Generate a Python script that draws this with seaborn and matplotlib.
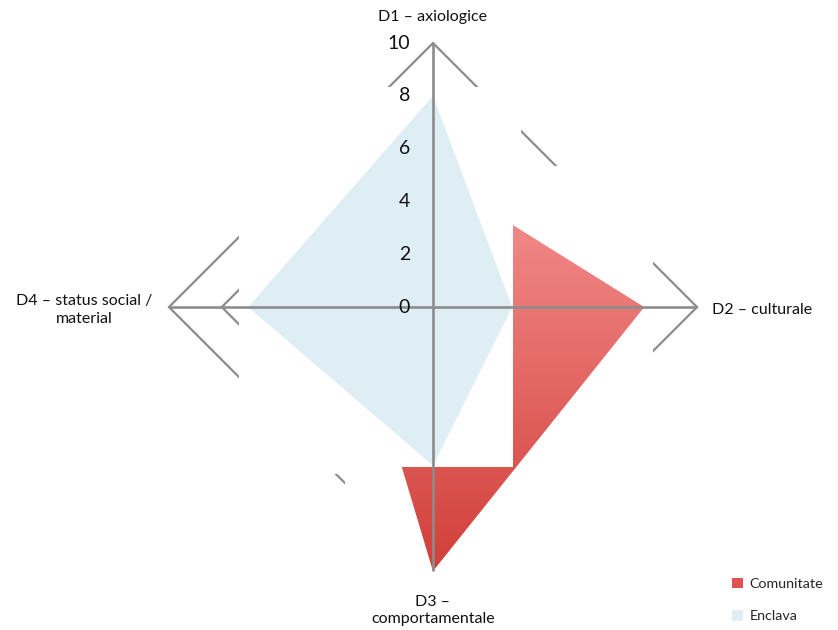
import numpy as np
import matplotlib
matplotlib.use("Agg")
import matplotlib.pyplot as plt
import seaborn as sns
from matplotlib.patches import Polygon, Rectangle, Patch
from matplotlib.colors import LinearSegmentedColormap

# Radar chart data: four dimensions, two series
dimensions = ["D1 – axiologice", "D2 – culturale",
              "D3 –\ncomportamentale", "D4 – status social /\nmaterial"]
series_names = ["Comunitate", "Enclava"]
comunitate = [5, 8, 10, 3]
enclava = [8, 3, 6, 7]
tick_values = [0, 2, 4, 6, 8, 10]
tick_labels = ["0", "2", "4", "6", "8", "10"]

sns.set_theme(style="white")
plt.rcParams["font.family"] = ["Lato", "DejaVu Sans"]

GRID = "#8c8c8c"
RED_TOP, RED_BOTTOM, RED_KEY = "#F59393", "#D23F39", "#E05252"
BLUE = "#DFEEF5"
GRID_PAD = 0.34   # white backing margin that hides the rings behind each series
SERIES_PAD = 0.04  # backing margin of a series over earlier series

r_max = tick_values[-1]
angles = np.deg2rad(90 - 90 * np.arange(len(dimensions)))  # clockwise from top


def to_xy(values):
    v = np.asarray(values, dtype=float)
    return np.column_stack([v * np.cos(angles), v * np.sin(angles)])


fig = plt.figure(figsize=(8.38, 6.3), dpi=100)
ax = fig.add_axes([0, 0, 1, 1])
XLIM, YLIM = (-16.40, 15.34), (-12.23, 11.63)

# concentric gridline diamonds
for r in tick_values[1:]:
    ring = to_xy([r] * len(dimensions))
    ring = np.vstack([ring, ring[:1]])
    ax.plot(ring[:, 0], ring[:, 1], color=GRID, lw=1.6, zorder=1,
            solid_joinstyle="miter")


def backing(pts, pad, z):
    x0, y0 = pts.min(axis=0) - pad
    x1, y1 = pts.max(axis=0) + pad
    ax.add_patch(Rectangle((x0, y0), x1 - x0, y1 - y0, facecolor="white",
                           edgecolor="none", zorder=z))


pts_c = to_xy(comunitate)
pts_e = to_xy(enclava)
backing(pts_c, GRID_PAD, 2)
backing(pts_e, GRID_PAD, 2)

# Comunitate: gradient-filled polygon
poly_c = Polygon(pts_c, closed=True, facecolor="none", edgecolor="none", zorder=3)
ax.add_patch(poly_c)
cmap = LinearSegmentedColormap.from_list("red_grad", [RED_TOP, RED_BOTTOM])
(xmin, ymin), (xmax, ymax) = pts_c.min(axis=0), pts_c.max(axis=0)
im = ax.imshow(np.linspace(0, 1, 256).reshape(-1, 1), extent=(xmin, xmax, ymin, ymax),
               origin="upper", cmap=cmap, aspect="auto", zorder=3)
im.set_clip_path(poly_c)

# Enclava: flat light-blue polygon
backing(pts_e, SERIES_PAD, 4)
ax.add_patch(Polygon(pts_e, closed=True, facecolor=BLUE, edgecolor="none", zorder=5))

# spokes
for a in angles:
    ax.plot([0, r_max * np.cos(a)], [0, r_max * np.sin(a)], color=GRID, lw=1.9,
            zorder=6, solid_capstyle="butt")

# value labels along the vertical axis
for v, lab in zip(tick_values, tick_labels):
    ax.text(-0.87, v, lab, ha="right", va="center", fontsize=14, color="#111111", zorder=7)

# dimension labels
label_pos = [((0, 10.98), "center"), ((10.57, -0.11), "left"),
             ((0, -11.48), "center"), ((-13.22, -0.11), "center")]
for text, ((x, y), ha) in zip(dimensions, label_pos):
    ax.text(x, y, text, ha=ha, va="center", multialignment="center",
            fontsize=11.5, color="#111111", linespacing=1.3, zorder=7)

ax.set_xlim(*XLIM)
ax.set_ylim(*YLIM)
ax.axis("off")

handles = [Patch(facecolor=RED_KEY, edgecolor="none"),
           Patch(facecolor=BLUE, edgecolor="none")]
fig.legend(handles, series_names, loc="upper left",
           bbox_to_anchor=(719 / 838, 1 - 565 / 630), frameon=False,
           fontsize=10.3, handlelength=0.75, handleheight=0.75,
           labelspacing=1.4, handletextpad=0.5)

fig.savefig("out.png", dpi=100, facecolor="white")
